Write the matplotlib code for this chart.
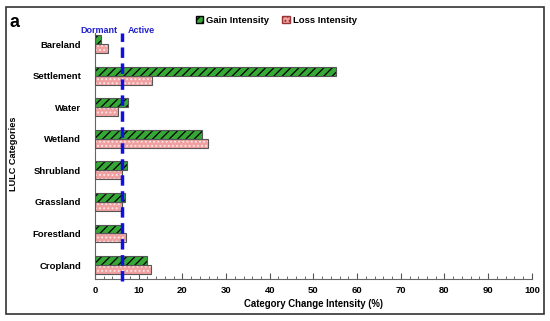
import numpy as np
import matplotlib.pyplot as plt
from matplotlib.patches import Rectangle, Patch

plt.rcParams['font.family'] = ['Liberation Sans', 'DejaVu Sans']
plt.rcParams['font.weight'] = 'bold'
plt.rcParams['hatch.linewidth'] = 0.9

categories = ['Cropland', 'Forestland', 'Grassland', 'Shrubland',
              'Wetland', 'Water', 'Settlement', 'Bareland']
gain = [12.0, 6.1, 6.9, 7.4, 24.6, 7.6, 55.2, 1.4]
loss = [12.8, 7.2, 6.1, 6.1, 25.9, 5.3, 13.1, 3.0]
uniform = 6.25

fig = plt.figure(figsize=(5.5, 3.21), dpi=100)
ax = fig.add_axes([0.1727, 0.131, 0.7943, 0.766])

y = np.arange(len(categories))
h = 0.285
green = '#36a836'
pink = '#f0a0a0'

# gain bars: green with black diagonal hatch
ax.barh(y + h / 2, gain, height=h, color=green, edgecolor='black',
        hatch='////', linewidth=0, zorder=2)
ax.barh(y + h / 2, gain, height=h, fill=False, edgecolor='#555555',
        linewidth=0.8, zorder=3)
# loss bars: pink with white dotted pattern
ax.barh(y - h / 2, loss, height=h, color=pink, edgecolor='#fbe4e4',
        hatch='....', linewidth=0, zorder=2)
ax.barh(y - h / 2, loss, height=h, fill=False, edgecolor='#555555',
        linewidth=0.8, zorder=3)

ax.axvline(uniform, ymin=-0.01, ymax=1.0, color='#1010e0', lw=2.5,
           ls=(0, (3, 1.6)), zorder=4, clip_on=False)
ax.text(uniform - 1.2, 7.42, 'Dormant', color='#2020d0', fontsize=6.5,
        ha='right', va='center', fontweight='bold')
ax.text(uniform + 1.2, 7.42, 'Active', color='#2020d0', fontsize=6.5,
        ha='left', va='center', fontweight='bold')

ax.set_xlim(0, 100)
ax.set_ylim(-0.44, 7.35)
ax.set_yticks(y)
ax.set_yticklabels(categories, fontsize=6.8, fontweight='bold')
ax.set_xticks(np.arange(0, 101, 10))
ax.set_xticks(np.arange(0, 101, 2), minor=True)
ax.tick_params(axis='x', which='major', direction='in', length=4,
               labelsize=6.8, pad=5, color='#555555')
ax.tick_params(axis='x', which='minor', direction='in', length=2,
               color='#555555')
ax.tick_params(axis='y', length=0, pad=10)
for s in ['top', 'right']:
    ax.spines[s].set_visible(False)
for s in ['left', 'bottom']:
    ax.spines[s].set_color('#666666')
    ax.spines[s].set_linewidth(0.8)

ax.set_xlabel('Category Change Intensity (%)', fontsize=6.9,
              fontweight='bold', labelpad=3)
fig.text(0.024, 0.52, 'LULC Categories', rotation=90, fontsize=6.6,
         fontweight='bold', ha='center', va='center')
fig.text(0.018, 0.93, 'a', fontsize=13, fontweight='bold',
         ha='left', va='center')

handles = [Patch(facecolor=green, edgecolor='black', hatch='////'),
           Patch(facecolor=pink, edgecolor='#993333', hatch='....')]
fig.legend(handles, ['Gain Intensity', 'Loss Intensity'], ncol=2,
           loc='center', bbox_to_anchor=(0.502, 0.937), frameon=False,
           fontsize=6.8, handlelength=0.8, handleheight=0.8,
           handletextpad=0.3, columnspacing=1.4)

fig.patches.append(Rectangle((0.011, 0.022), 0.978, 0.956,
                             transform=fig.transFigure, fill=False,
                             edgecolor='#333333', linewidth=1.2))

fig.savefig('out.png', dpi=100)
